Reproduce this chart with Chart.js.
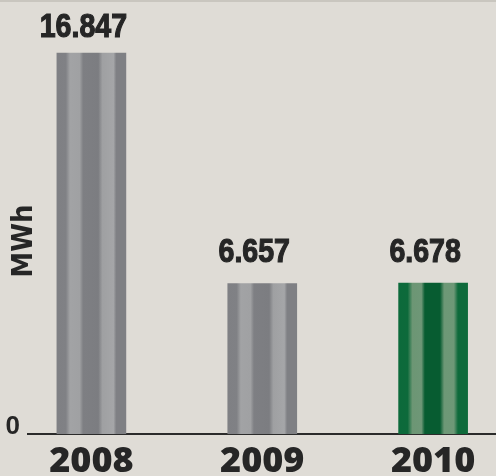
<!DOCTYPE html>
<html>
<head>
<meta charset="utf-8">
<script src="https://cdn.jsdelivr.net/npm/chart.js@4/dist/chart.umd.min.js"></script>
<style>
  html, body { margin: 0; padding: 0; background: #dfdcd6; overflow: hidden; }
  body { width: 496px; height: 476px; position: relative; }
  #top { position: absolute; left: 0; top: 0; width: 496px; height: 2px; background: #c9c6bf; }
  canvas { position: absolute; left: 0; top: 0; }
</style>
</head>
<body>
<div id="top"></div>
<canvas id="c" width="496" height="476"></canvas>
<script>
const years = ["2008", "2009", "2010"];
const mwh = [16.847, 6.657, 6.678];
const valueLabels = ["16.847", "6.657", "6.678"];

// stripe palettes per bar: [offset, colour]
const grayStripes = [[0, "#7f8084"], [0.13, "#808185"], [0.19, "#a2a3a5"], [0.33, "#a0a1a3"], [0.38, "#7e7f83"], [0.6, "#7c7d81"], [0.66, "#9fa0a2"], [0.82, "#a5a6a8"], [0.86, "#7f8084"], [1, "#7f8084"]];
const greenStripes = [[0, "#0c6a3b"], [0.13, "#0d6a3b"], [0.2, "#6c9674"], [0.33, "#6e9777"], [0.38, "#075c31"], [0.6, "#075c31"], [0.66, "#6d9876"], [0.8, "#6e9877"], [0.86, "#0e6a3b"], [1, "#0e6a3b"]];
const barStripes = [grayStripes, grayStripes, greenStripes];

const BAR_W = 69;

function stripeFill(ctx) {
  const chart = ctx.chart;
  if (!chart.chartArea) return "#808185";
  const x = chart.scales.x.getPixelForValue(ctx.dataIndex);
  const g = chart.ctx.createLinearGradient(x - BAR_W / 2, 0, x + BAR_W / 2, 0);
  barStripes[ctx.dataIndex].forEach(s => g.addColorStop(s[0], s[1]));
  return g;
}

// condensed bold numbers above the bars (no narrow font installed, so squeeze horizontally)
const valueLabelPlugin = {
  id: "valueLabels",
  afterDatasetsDraw(chart) {
    const c = chart.ctx;
    const meta = chart.getDatasetMeta(0);
    c.save();
    c.font = "bold 34px 'Liberation Sans', sans-serif";
    c.fillStyle = "#262626";
    c.strokeStyle = "#262626";
    c.lineWidth = 1.2;
    c.textAlign = "center";
    c.textBaseline = "alphabetic";
    meta.data.forEach((bar, i) => {
      const y = Math.max(bar.y - 21, 37);
      c.save();
      c.translate(bar.x - 8, y);
      c.scale(0.84, 1);
      c.fillText(valueLabels[i], 0, 0);
      c.strokeText(valueLabels[i], 0, 0);
      c.restore();
    });
    c.restore();
  }
};

new Chart(document.getElementById("c"), {
  type: "bar",
  data: {
    datasets: [{
      data: mwh.map((v, i) => ({ x: i, y: v })),
      backgroundColor: stripeFill,
      barThickness: BAR_W,
      borderWidth: 0
    }]
  },
  options: {
    responsive: false,
    animation: false,
    layout: { padding: { top: 48, right: 0, left: 0, bottom: 0 } },
    plugins: { legend: { display: false }, tooltip: { enabled: false } },
    scales: {
      x: {
        type: "linear",
        offset: false,
        min: -0.371,
        max: 2.368,
        grid: { display: false, drawTicks: false },
        border: { display: true, color: "#2b2b2b", width: 2 },
        afterBuildTicks: axis => { axis.ticks = years.map((_, i) => ({ value: i })); },
        afterFit: axis => { axis.height = 42; },
        ticks: {
          padding: 10,
          color: "#262626",
          font: { family: "'Open Sans', sans-serif", weight: "800", size: 36, lineHeight: 1 },
          callback: v => years[v]
        }
      },
      y: {
        min: 0,
        max: 17.07,
        grid: { display: false, drawTicks: false },
        border: { display: false },
        afterBuildTicks: axis => { axis.ticks = [{ value: 0 }]; },
        afterFit: axis => { axis.width = 28; },
        ticks: {
          padding: 8,
          labelOffset: -7,
          color: "#262626",
          font: { family: "'Liberation Sans', sans-serif", weight: "bold", size: 26 }
        },
        title: {
          display: true,
          text: "MWh",
          color: "#262626",
          padding: { top: 10, bottom: 0 },
          font: { family: "'DejaVu Sans Condensed', 'DejaVu Sans', sans-serif", weight: "bold", size: 29, lineHeight: 1 }
        }
      }
    }
  },
  plugins: [valueLabelPlugin]
});
</script>
</body>
</html>
